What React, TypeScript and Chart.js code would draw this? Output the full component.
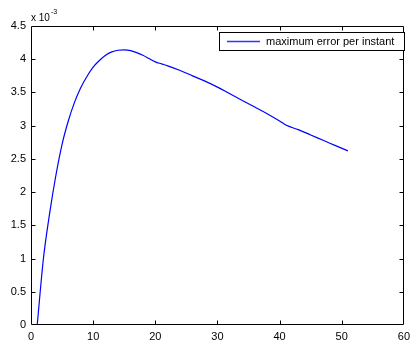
import React, { useEffect, useRef } from "react";
import { Chart, registerables } from "chart.js";

Chart.register(...registerables);

const xValues = [1, 2, 3, 4, 5, 6, 7, 8, 9, 10, 11, 12, 13, 14, 15, 16, 17, 18, 19, 20, 21, 22, 24, 26, 28, 30, 32, 34, 36, 38, 40, 41, 43, 45, 47, 49, 51];
const errValues = [0, 1.0, 1.68, 2.25, 2.72, 3.07, 3.35, 3.57, 3.74, 3.88, 3.98, 4.06, 4.11, 4.135, 4.14, 4.13, 4.1, 4.06, 4.01, 3.96, 3.93, 3.9, 3.83, 3.75, 3.67, 3.58, 3.48, 3.38, 3.28, 3.18, 3.07, 3.01, 2.94, 2.86, 2.78, 2.7, 2.62];
const seriesLabel = "maximum error per instant";
const xTicks = [0, 10, 20, 30, 40, 50, 60];
const yTicks = [0, 0.5, 1, 1.5, 2, 2.5, 3, 3.5, 4, 4.5];

const FONT = "'Liberation Sans', Arial, Helvetica, sans-serif";

const matlabPlugin = {
  id: "matlabDecor",
  afterDraw(chart: any) {
    const { ctx, chartArea: a, scales } = chart;
    ctx.save();
    ctx.strokeStyle = "#000";
    ctx.lineWidth = 1;
    const L = Math.round(a.left) + 0.5, R = Math.round(a.right) - 0.5;
    const T = Math.round(a.top) + 0.5, B = Math.round(a.bottom) - 0.5;
    ctx.beginPath();
    ctx.rect(L, T, R - L, B - T);
    ctx.stroke();
    const tl = 4;
    ctx.beginPath();
    xTicks.slice(1, -1).forEach((v) => {
      const x = Math.round(scales.x.getPixelForValue(v)) + 0.5;
      ctx.moveTo(x, B); ctx.lineTo(x, B - tl);
      ctx.moveTo(x, T); ctx.lineTo(x, T + tl);
    });
    yTicks.slice(1, -1).forEach((v) => {
      const y = Math.round(scales.y.getPixelForValue(v)) + 0.5;
      ctx.moveTo(L, y); ctx.lineTo(L + tl, y);
      ctx.moveTo(R, y); ctx.lineTo(R - tl, y);
    });
    ctx.stroke();
    ctx.fillStyle = "#000";
    ctx.textBaseline = "alphabetic";
    ctx.textAlign = "left";
    ctx.font = `10px ${FONT}`;
    ctx.fillText("x 10", a.left, a.top - 5);
    const w = ctx.measureText("x 10").width;
    ctx.font = `7px ${FONT}`;
    ctx.fillText("-3", a.left + w + 1, a.top - 12);
    const bx = 219.5, by = 32.5, bw = 185, bh = 18;
    ctx.fillStyle = "#fff";
    ctx.fillRect(bx, by, bw, bh);
    ctx.strokeStyle = "#000";
    ctx.strokeRect(bx, by, bw, bh);
    ctx.strokeStyle = "#3333ff";
    ctx.lineWidth = 1.5;
    ctx.beginPath();
    ctx.moveTo(227, by + 9);
    ctx.lineTo(260, by + 9);
    ctx.stroke();
    ctx.fillStyle = "#000";
    ctx.font = `11px ${FONT}`;
    ctx.textBaseline = "middle";
    ctx.fillText(seriesLabel, 266, by + 9.5);
    ctx.restore();
  },
};

export default function App() {
  const ref = useRef<HTMLCanvasElement | null>(null);
  useEffect(() => {
    if (!ref.current) return;
    const chart = new Chart(ref.current, {
      type: "line",
      data: {
        datasets: [
          {
            label: seriesLabel,
            data: xValues.map((x, i) => ({ x, y: errValues[i] })),
            borderColor: "#0000ff",
            borderWidth: 1.2,
            pointRadius: 0,
            cubicInterpolationMode: "monotone",
            fill: false,
          },
        ],
      },
      options: {
        animation: false,
        responsive: false,
        maintainAspectRatio: false,
        layout: { padding: { top: 26, right: 4.5, left: 0, bottom: 0 } },
        plugins: { legend: { display: false }, tooltip: { enabled: false } },
        scales: {
          x: {
            type: "linear",
            min: 0,
            max: 60,
            afterBuildTicks: (s: any) => { s.ticks = xTicks.map((v) => ({ value: v })); },
            afterFit: (s: any) => { s.height = 19; },
            grid: { display: false, drawTicks: false },
            border: { display: false },
            ticks: { color: "#000", font: { family: FONT, size: 11 }, padding: 5, maxRotation: 0, autoSkip: false, callback: (v: any) => String(v) },
          },
          y: {
            type: "linear",
            min: 0,
            max: 4.5,
            afterBuildTicks: (s: any) => { s.ticks = yTicks.map((v) => ({ value: v })); },
            afterFit: (s: any) => { s.width = 31; },
            grid: { display: false, drawTicks: false },
            border: { display: false },
            ticks: { color: "#000", font: { family: FONT, size: 11 }, padding: 5, autoSkip: false, callback: (v: any) => String(v) },
          },
        },
      },
      plugins: [matlabPlugin],
    } as any);
    return () => chart.destroy();
  }, []);
  return (
    <div style={{ position: "fixed", left: 0, top: 0, width: 415, height: 344, background: "#fff" }}>
      <canvas ref={ref} width={415} height={344} style={{ width: 415, height: 344, display: "block" }} />
    </div>
  );
}
